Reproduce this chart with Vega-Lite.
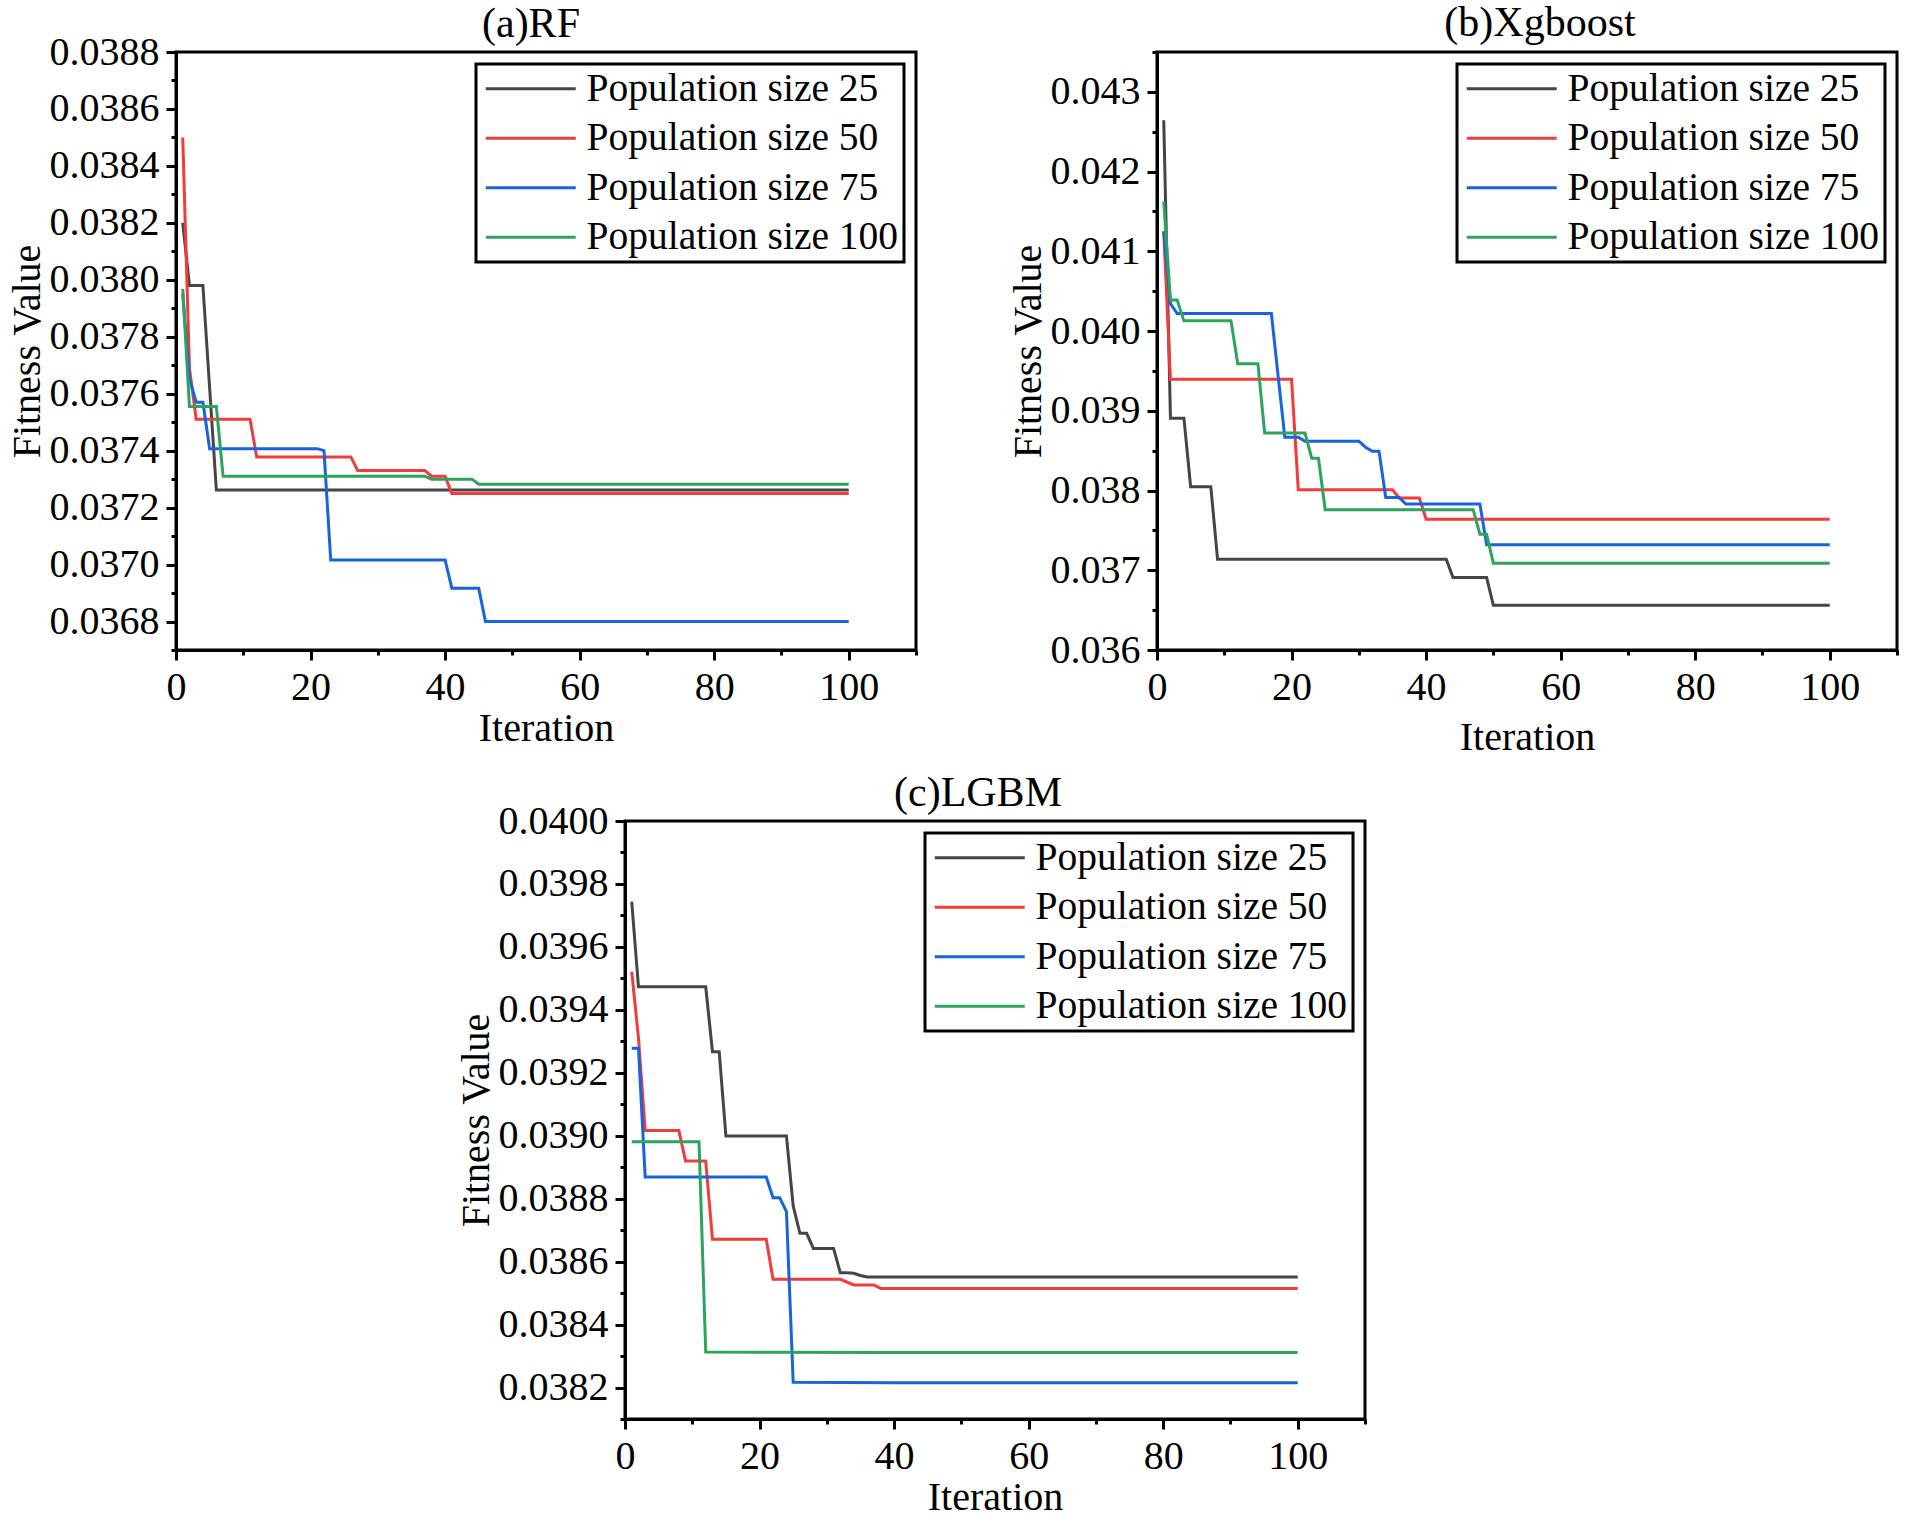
{
  "$schema": "https://vega.github.io/schema/vega-lite/v6.json",
  "background": "white",
  "padding": {"left": 5, "top": 0, "right": 5, "bottom": 2},
  "datasets": {
    "rf": [
      {"series": "Population size 25", "iter": 1, "value": 0.0382},
      {"series": "Population size 25", "iter": 2, "value": 0.03798},
      {"series": "Population size 25", "iter": 4, "value": 0.03798},
      {"series": "Population size 25", "iter": 5, "value": 0.03762},
      {"series": "Population size 25", "iter": 6, "value": 0.037262},
      {"series": "Population size 25", "iter": 100, "value": 0.037262},
      {"series": "Population size 50", "iter": 1, "value": 0.0385},
      {"series": "Population size 50", "iter": 2, "value": 0.03769},
      {"series": "Population size 50", "iter": 3, "value": 0.03751},
      {"series": "Population size 50", "iter": 11, "value": 0.03751},
      {"series": "Population size 50", "iter": 12, "value": 0.037378},
      {"series": "Population size 50", "iter": 26, "value": 0.037378},
      {"series": "Population size 50", "iter": 27, "value": 0.03733},
      {"series": "Population size 50", "iter": 37, "value": 0.03733},
      {"series": "Population size 50", "iter": 38, "value": 0.03731},
      {"series": "Population size 50", "iter": 40, "value": 0.03731},
      {"series": "Population size 50", "iter": 41, "value": 0.03725},
      {"series": "Population size 50", "iter": 100, "value": 0.03725},
      {"series": "Population size 75", "iter": 1, "value": 0.03795},
      {"series": "Population size 75", "iter": 2, "value": 0.037653},
      {"series": "Population size 75", "iter": 3, "value": 0.03757},
      {"series": "Population size 75", "iter": 4, "value": 0.03757},
      {"series": "Population size 75", "iter": 5, "value": 0.037407},
      {"series": "Population size 75", "iter": 21, "value": 0.037407},
      {"series": "Population size 75", "iter": 22, "value": 0.0374},
      {"series": "Population size 75", "iter": 23, "value": 0.037016},
      {"series": "Population size 75", "iter": 40, "value": 0.037016},
      {"series": "Population size 75", "iter": 41, "value": 0.036917},
      {"series": "Population size 75", "iter": 45, "value": 0.036917},
      {"series": "Population size 75", "iter": 46, "value": 0.0368},
      {"series": "Population size 75", "iter": 100, "value": 0.0368},
      {"series": "Population size 100", "iter": 1, "value": 0.037968},
      {"series": "Population size 100", "iter": 2, "value": 0.037555},
      {"series": "Population size 100", "iter": 6, "value": 0.037555},
      {"series": "Population size 100", "iter": 7, "value": 0.03731},
      {"series": "Population size 100", "iter": 37, "value": 0.03731},
      {"series": "Population size 100", "iter": 38, "value": 0.0373},
      {"series": "Population size 100", "iter": 44, "value": 0.0373},
      {"series": "Population size 100", "iter": 45, "value": 0.037282},
      {"series": "Population size 100", "iter": 100, "value": 0.037282}
    ],
    "xgb": [
      {"series": "Population size 25", "iter": 1, "value": 0.042644},
      {"series": "Population size 25", "iter": 2, "value": 0.038908},
      {"series": "Population size 25", "iter": 4, "value": 0.038908},
      {"series": "Population size 25", "iter": 5, "value": 0.038049},
      {"series": "Population size 25", "iter": 8, "value": 0.038049},
      {"series": "Population size 25", "iter": 9, "value": 0.037138},
      {"series": "Population size 25", "iter": 43, "value": 0.037138},
      {"series": "Population size 25", "iter": 44, "value": 0.036908},
      {"series": "Population size 25", "iter": 49, "value": 0.036908},
      {"series": "Population size 25", "iter": 50, "value": 0.03656},
      {"series": "Population size 25", "iter": 100, "value": 0.03656},
      {"series": "Population size 50", "iter": 1, "value": 0.04125},
      {"series": "Population size 50", "iter": 2, "value": 0.039395},
      {"series": "Population size 50", "iter": 20, "value": 0.039395},
      {"series": "Population size 50", "iter": 21, "value": 0.038011},
      {"series": "Population size 50", "iter": 35, "value": 0.038011},
      {"series": "Population size 50", "iter": 36, "value": 0.037906},
      {"series": "Population size 50", "iter": 39, "value": 0.037906},
      {"series": "Population size 50", "iter": 40, "value": 0.037641},
      {"series": "Population size 50", "iter": 100, "value": 0.037641},
      {"series": "Population size 75", "iter": 1, "value": 0.04125},
      {"series": "Population size 75", "iter": 2, "value": 0.040346},
      {"series": "Population size 75", "iter": 3, "value": 0.04022},
      {"series": "Population size 75", "iter": 17, "value": 0.04022},
      {"series": "Population size 75", "iter": 18, "value": 0.03944},
      {"series": "Population size 75", "iter": 19, "value": 0.038669},
      {"series": "Population size 75", "iter": 21, "value": 0.038669},
      {"series": "Population size 75", "iter": 22, "value": 0.038619},
      {"series": "Population size 75", "iter": 30, "value": 0.038619},
      {"series": "Population size 75", "iter": 31, "value": 0.038543},
      {"series": "Population size 75", "iter": 32, "value": 0.038493},
      {"series": "Population size 75", "iter": 33, "value": 0.038493},
      {"series": "Population size 75", "iter": 34, "value": 0.037914},
      {"series": "Population size 75", "iter": 36, "value": 0.037914},
      {"series": "Population size 75", "iter": 37, "value": 0.03783},
      {"series": "Population size 75", "iter": 48, "value": 0.03783},
      {"series": "Population size 75", "iter": 49, "value": 0.037319},
      {"series": "Population size 75", "iter": 100, "value": 0.037319},
      {"series": "Population size 100", "iter": 1, "value": 0.041625},
      {"series": "Population size 100", "iter": 2, "value": 0.040389},
      {"series": "Population size 100", "iter": 3, "value": 0.040389},
      {"series": "Population size 100", "iter": 4, "value": 0.040128},
      {"series": "Population size 100", "iter": 11, "value": 0.040128},
      {"series": "Population size 100", "iter": 12, "value": 0.039591},
      {"series": "Population size 100", "iter": 15, "value": 0.039591},
      {"series": "Population size 100", "iter": 16, "value": 0.038723},
      {"series": "Population size 100", "iter": 22, "value": 0.038723},
      {"series": "Population size 100", "iter": 23, "value": 0.038405},
      {"series": "Population size 100", "iter": 24, "value": 0.038405},
      {"series": "Population size 100", "iter": 25, "value": 0.03776},
      {"series": "Population size 100", "iter": 47, "value": 0.03776},
      {"series": "Population size 100", "iter": 48, "value": 0.037453},
      {"series": "Population size 100", "iter": 49, "value": 0.037453},
      {"series": "Population size 100", "iter": 50, "value": 0.037088},
      {"series": "Population size 100", "iter": 100, "value": 0.037088}
    ],
    "lgbm": [
      {"series": "Population size 25", "iter": 1, "value": 0.039744},
      {"series": "Population size 25", "iter": 2, "value": 0.039473},
      {"series": "Population size 25", "iter": 12, "value": 0.039473},
      {"series": "Population size 25", "iter": 13, "value": 0.039267},
      {"series": "Population size 25", "iter": 14, "value": 0.039267},
      {"series": "Population size 25", "iter": 15, "value": 0.038999},
      {"series": "Population size 25", "iter": 24, "value": 0.038999},
      {"series": "Population size 25", "iter": 25, "value": 0.038777},
      {"series": "Population size 25", "iter": 26, "value": 0.03869},
      {"series": "Population size 25", "iter": 27, "value": 0.03869},
      {"series": "Population size 25", "iter": 28, "value": 0.038642},
      {"series": "Population size 25", "iter": 31, "value": 0.038642},
      {"series": "Population size 25", "iter": 32, "value": 0.038565},
      {"series": "Population size 25", "iter": 33, "value": 0.038565},
      {"series": "Population size 25", "iter": 34, "value": 0.038563},
      {"series": "Population size 25", "iter": 35, "value": 0.038556},
      {"series": "Population size 25", "iter": 36, "value": 0.038551},
      {"series": "Population size 25", "iter": 100, "value": 0.038551},
      {"series": "Population size 50", "iter": 1, "value": 0.039521},
      {"series": "Population size 50", "iter": 2, "value": 0.039311},
      {"series": "Population size 50", "iter": 3, "value": 0.039017},
      {"series": "Population size 50", "iter": 8, "value": 0.039017},
      {"series": "Population size 50", "iter": 9, "value": 0.03892},
      {"series": "Population size 50", "iter": 12, "value": 0.03892},
      {"series": "Population size 50", "iter": 13, "value": 0.038671},
      {"series": "Population size 50", "iter": 21, "value": 0.038671},
      {"series": "Population size 50", "iter": 22, "value": 0.038544},
      {"series": "Population size 50", "iter": 32, "value": 0.038544},
      {"series": "Population size 50", "iter": 34, "value": 0.038526},
      {"series": "Population size 50", "iter": 37, "value": 0.038526},
      {"series": "Population size 50", "iter": 38, "value": 0.038515},
      {"series": "Population size 50", "iter": 100, "value": 0.038515},
      {"series": "Population size 75", "iter": 1, "value": 0.039278},
      {"series": "Population size 75", "iter": 2, "value": 0.039278},
      {"series": "Population size 75", "iter": 3, "value": 0.038869},
      {"series": "Population size 75", "iter": 21, "value": 0.038869},
      {"series": "Population size 75", "iter": 22, "value": 0.038803},
      {"series": "Population size 75", "iter": 23, "value": 0.038803},
      {"series": "Population size 75", "iter": 24, "value": 0.038759},
      {"series": "Population size 75", "iter": 25, "value": 0.038217},
      {"series": "Population size 75", "iter": 40, "value": 0.038215},
      {"series": "Population size 75", "iter": 100, "value": 0.038215},
      {"series": "Population size 100", "iter": 1, "value": 0.038981},
      {"series": "Population size 100", "iter": 11, "value": 0.038981},
      {"series": "Population size 100", "iter": 12, "value": 0.038313},
      {"series": "Population size 100", "iter": 40, "value": 0.038311},
      {"series": "Population size 100", "iter": 100, "value": 0.038311}
    ]
  },
  "vconcat": [
    {
      "hconcat": [
        {
          "title": {"text": "(a)RF", "dx": -15, "offset": -14},
          "width": 740,
          "height": 598,
          "data": {"name": "rf"},
          "layer": [
            {
              "mark": {"type": "line", "strokeWidth": 3},
              "encoding": {
                "x": {"field": "iter", "type": "quantitative", "scale": {"domain": [0, 110], "nice": false, "zero": false},
                  "axis": {"values": [0, 20, 40, 60, 80, 100], "title": "Iteration", "titlePadding": 1}},
                "y": {"field": "value", "type": "quantitative", "scale": {"domain": [0.0367, 0.0388], "nice": false, "zero": false},
                  "axis": {"values": [0.0368, 0.037, 0.0372, 0.0374, 0.0376, 0.0378, 0.038, 0.0382, 0.0384, 0.0386, 0.0388], "format": ".4f", "title": "Fitness Value"}},
                "color": {"field": "series", "type": "nominal",
                  "scale": {"domain": ["Population size 25", "Population size 50", "Population size 75", "Population size 100"], "range": ["#454545", "#f23b3b", "#1764dc", "#2ea35e"]},
                  "legend": {"title": null}}
              }
            },
            {
              "mark": {"type": "line", "opacity": 0},
              "encoding": {
                "x": {"field": "iter", "type": "quantitative", "scale": {"domain": [0, 110], "nice": false, "zero": false},
                  "axis": {"orient": "bottom", "values": [10, 30, 50, 70, 90, 110], "labels": false, "domain": false, "tickSize": 5, "title": null}},
                "y": {"field": "value", "type": "quantitative", "scale": {"domain": [0.0367, 0.0388], "nice": false, "zero": false},
                  "axis": {"orient": "left", "values": [0.0367, 0.0369, 0.0371, 0.0373, 0.0375, 0.0377, 0.0379, 0.0381, 0.0383, 0.0385, 0.0387], "labels": false, "domain": false, "tickSize": 5, "title": null}}
              }
            }
          ],
          "resolve": {"axis": {"x": "independent", "y": "independent"}}
        },
        {
          "title": {"text": "(b)Xgboost", "dx": 13, "offset": 6},
          "width": 740,
          "height": 598,
          "data": {"name": "xgb"},
          "layer": [
            {
              "mark": {"type": "line", "strokeWidth": 3},
              "encoding": {
                "x": {"field": "iter", "type": "quantitative", "scale": {"domain": [0, 110], "nice": false, "zero": false},
                  "axis": {"values": [0, 20, 40, 60, 80, 100], "title": "Iteration", "titlePadding": 10}},
                "y": {"field": "value", "type": "quantitative", "scale": {"domain": [0.036, 0.0435], "nice": false, "zero": false},
                  "axis": {"values": [0.036, 0.037, 0.038, 0.039, 0.04, 0.041, 0.042, 0.043], "format": ".3f", "title": "Fitness Value"}},
                "color": {"field": "series", "type": "nominal",
                  "scale": {"domain": ["Population size 25", "Population size 50", "Population size 75", "Population size 100"], "range": ["#454545", "#f23b3b", "#1764dc", "#2ea35e"]},
                  "legend": {"title": null}}
              }
            },
            {
              "mark": {"type": "line", "opacity": 0},
              "encoding": {
                "x": {"field": "iter", "type": "quantitative", "scale": {"domain": [0, 110], "nice": false, "zero": false},
                  "axis": {"orient": "bottom", "values": [10, 30, 50, 70, 90, 110], "labels": false, "domain": false, "tickSize": 5, "title": null}},
                "y": {"field": "value", "type": "quantitative", "scale": {"domain": [0.036, 0.0435], "nice": false, "zero": false},
                  "axis": {"orient": "left", "values": [0.0365, 0.0375, 0.0385, 0.0395, 0.0405, 0.0415, 0.0425, 0.0435], "labels": false, "domain": false, "tickSize": 5, "title": null}}
              }
            }
          ],
          "resolve": {"axis": {"x": "independent", "y": "independent"}}
        }
      ],
      "spacing": 87,
      "resolve": {"scale": {"color": "independent"}, "legend": {"color": "independent"}}
    },
    {
      "hconcat": [
        {
          "width": 278,
          "height": 10,
          "data": {"values": []},
          "mark": "point",
          "view": {"stroke": null, "fill": "white"}
        },
        {
          "title": {"text": "(c)LGBM", "dx": -17, "offset": -14},
          "width": 740,
          "height": 598,
          "data": {"name": "lgbm"},
          "layer": [
            {
              "mark": {"type": "line", "strokeWidth": 3},
              "encoding": {
                "x": {"field": "iter", "type": "quantitative", "scale": {"domain": [0, 110], "nice": false, "zero": false},
                  "axis": {"values": [0, 20, 40, 60, 80, 100], "title": "Iteration", "titlePadding": 1}},
                "y": {"field": "value", "type": "quantitative", "scale": {"domain": [0.0381, 0.04], "nice": false, "zero": false},
                  "axis": {"values": [0.0382, 0.0384, 0.0386, 0.0388, 0.039, 0.0392, 0.0394, 0.0396, 0.0398, 0.04], "format": ".4f", "title": "Fitness Value"}},
                "color": {"field": "series", "type": "nominal",
                  "scale": {"domain": ["Population size 25", "Population size 50", "Population size 75", "Population size 100"], "range": ["#454545", "#f23b3b", "#1764dc", "#2ea35e"]},
                  "legend": {"title": null}}
              }
            },
            {
              "mark": {"type": "line", "opacity": 0},
              "encoding": {
                "x": {"field": "iter", "type": "quantitative", "scale": {"domain": [0, 110], "nice": false, "zero": false},
                  "axis": {"orient": "bottom", "values": [10, 30, 50, 70, 90, 110], "labels": false, "domain": false, "tickSize": 5, "title": null}},
                "y": {"field": "value", "type": "quantitative", "scale": {"domain": [0.0381, 0.04], "nice": false, "zero": false},
                  "axis": {"orient": "left", "values": [0.0381, 0.0383, 0.0385, 0.0387, 0.0389, 0.0391, 0.0393, 0.0395, 0.0397, 0.0399], "labels": false, "domain": false, "tickSize": 5, "title": null}}
              }
            }
          ],
          "resolve": {"axis": {"x": "independent", "y": "independent"}}
        }
      ],
      "spacing": 0,
      "resolve": {"scale": {"color": "independent"}, "legend": {"color": "independent"}}
    }
  ],
  "spacing": 11,
  "resolve": {"scale": {"color": "independent"}, "legend": {"color": "independent"}},
  "config": {
    "font": "Liberation Serif",
    "view": {"stroke": "black", "strokeWidth": 3},
    "title": {"fontSize": 42, "fontWeight": "normal", "font": "Liberation Serif", "color": "black", "offset": 6, "frame": "group"},
    "axis": {
      "grid": false,
      "domainColor": "black", "domainWidth": 3,
      "tickColor": "black", "tickWidth": 3, "tickSize": 10,
      "labelFont": "Liberation Serif", "labelFontSize": 40, "labelColor": "black", "labelPadding": 7,
      "labelFlush": false, "labelOverlap": false, "labelBound": false,
      "titleFont": "Liberation Serif", "titleFontSize": 40, "titleFontWeight": "normal", "titleColor": "black", "titlePadding": 2
    },
    "legend": {
      "orient": "top-right", "offset": 12,
      "strokeColor": "black", "strokeWidth": 3, "fillColor": "white", "padding": 5,
      "symbolType": "M-1,0H5", "symbolSize": 900, "symbolStrokeWidth": 3,
      "labelFont": "Liberation Serif", "labelFontSize": 39.5, "labelColor": "black", "labelOffset": 66, "labelLimit": 600,
      "rowPadding": 8.5
    }
  }
}
